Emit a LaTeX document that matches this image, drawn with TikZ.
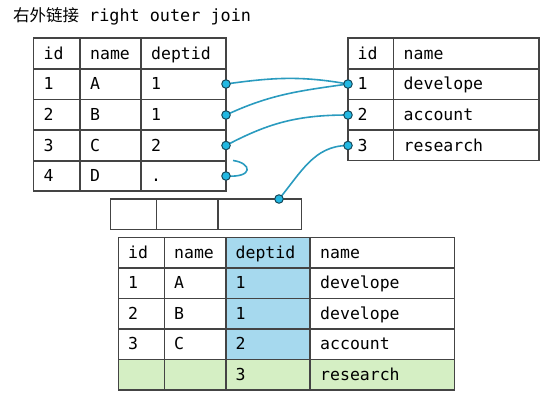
\documentclass[tikz,border=0pt]{standalone}
\usepackage{fontspec}
\setmonofont{DejaVu Sans Mono}
\newfontfamily\cjk{Noto Sans CJK SC}
\definecolor{grid}{HTML}{444444}
\definecolor{link}{HTML}{2A9BBF}
\definecolor{dotfill}{HTML}{22B8E2}
\definecolor{dotline}{HTML}{16485A}
\definecolor{keyblue}{HTML}{A6D9EE}
\definecolor{newgreen}{HTML}{D5EFC4}
\tikzset{
  tbl/.style={draw=grid,line width=1.6pt},
  txt/.style={anchor=base west,inner sep=0pt,font=\fontsize{16.5}{20}\selectfont\ttfamily,text=black},
  dotn/.style={circle,draw=dotline,fill=dotfill,line width=1pt,minimum size=8.5pt,inner sep=0pt},
  conn/.style={draw=link,line width=1.6pt}
}
\begin{document}
\begin{tikzpicture}[x=1pt,y=-1pt]
\useasboundingbox (0,0) rectangle (558,402);
% title
\node[anchor=base west,inner sep=0pt,font=\fontsize{16.5}{20}\selectfont] (title) at (13,21)
  {{\cjk 右外链接}\hspace{10pt}{\fontsize{16.8}{20}\selectfont\ttfamily right outer join}};

% ---------- left table ----------
\draw[tbl] (33.5,38) rectangle (226,191);
\foreach \y in {69,99.5,130,161} \draw[tbl] (33.5,\y) -- (226,\y);
\foreach \x in {80,141} \draw[tbl] (\x,38) -- (\x,191);
\foreach \r/\a/\b/\c/\yy in {0/id/name/deptid/53.5, 1/1/A/1/84, 2/2/B/1/115, 3/3/C/2/145.5, 4/4/D/./176}{
  \node[txt] (L\r a) at (43.5,\yy+5.5) {\a};
  \node[txt] (L\r b) at (90,\yy+5.5) {\b};
  \node[txt] (L\r c) at (151,\yy+5.5) {\c};
}

% ---------- right table ----------
\draw[tbl] (348,38) rectangle (539,160.5);
\foreach \y in {69,99.5,130} \draw[tbl] (348,\y) -- (539,\y);
\draw[tbl] (393.5,38) -- (393.5,160.5);
\foreach \r/\a/\b/\yy in {0/id/name/53.5, 1/1/develope/84, 2/2/account/115, 3/3/research/145.5}{
  \node[txt] (R\r a) at (357.5,\yy+5.5) {\a};
  \node[txt] (R\r b) at (403.5,\yy+5.5) {\b};
}

% ---------- empty row ----------
\draw[tbl] (110.5,199) rectangle (301.5,229.5);
\foreach \x in {156.5,218} \draw[tbl] (\x,199) -- (\x,229.5);

% ---------- result table ----------
\fill[keyblue] (226,237.5) rectangle (310,359.5);
\fill[newgreen] (118.5,359.5) rectangle (454.5,390);
\draw[tbl] (118.5,237.5) rectangle (454.5,390);
\foreach \y in {268,298.5,329,359.5} \draw[tbl] (118.5,\y) -- (454.5,\y);
\foreach \x in {164.5,226,310} \draw[tbl] (\x,237.5) -- (\x,390);
\foreach \r/\a/\b/\c/\d/\yy in {0/id/name/deptid/name/252.5, 1/1/A/1/develope/283, 2/2/B/1/develope/313.5, 3/3/C/2/account/344, 4/{}/{}/3/research/374.5}{
  \node[txt] (B\r a) at (128,\yy+5.5) {\a};
  \node[txt] (B\r b) at (174,\yy+5.5) {\b};
  \node[txt] (B\r c) at (235.5,\yy+5.5) {\c};
  \node[txt] (B\r d) at (320,\yy+5.5) {\d};
}

% ---------- connectors ----------
\coordinate (hookend) at (233,160.5);
\draw[conn] (226,84) coordinate (l1) to[out=8,in=170] (348,84) coordinate (r1);
\draw[conn] (226,115) coordinate (l2) to[out=25,in=188] (r1);
\draw[conn] (226,145.5) coordinate (l3) to[out=28,in=180] (348,115) coordinate (r2);
\draw[conn] (226,176) coordinate (l4) .. controls (254,178) and (252,163) .. (hookend);
\draw[conn] (279,199) coordinate (e1) to[out=50,in=180] (348,145.5) coordinate (r3);
\foreach \p in {l1,l2,l3,l4,r1,r2,r3,e1} \node[dotn] (d\p) at (\p) {};
\end{tikzpicture}
\end{document}
